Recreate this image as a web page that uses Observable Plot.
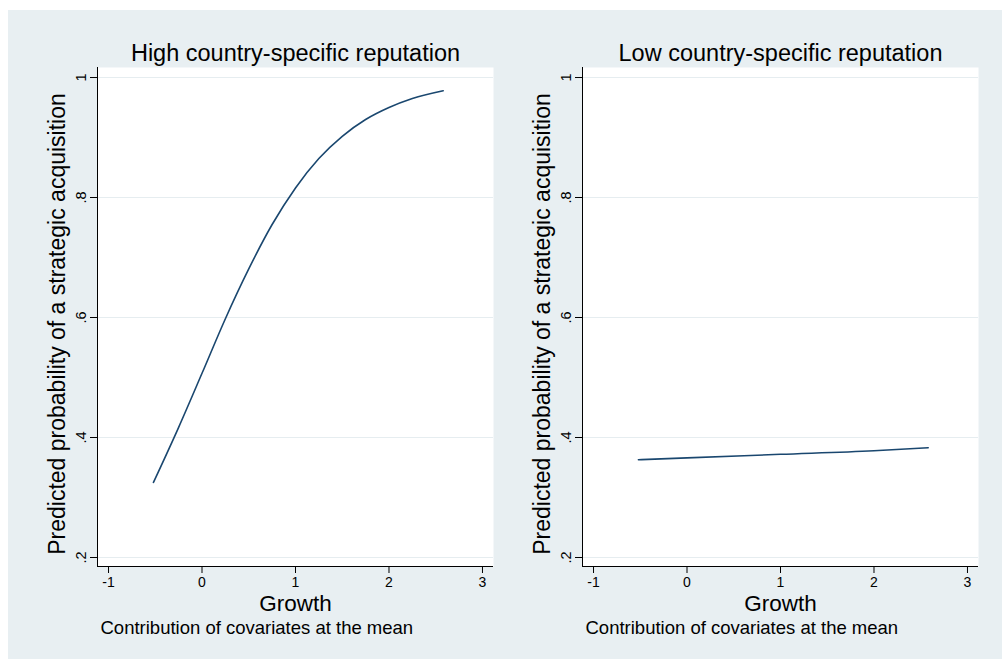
<!DOCTYPE html>
<html>
<head>
<meta charset="utf-8">
<script src="https://cdn.jsdelivr.net/npm/d3@7"></script>
<script src="https://cdn.jsdelivr.net/npm/@observablehq/plot@0.6"></script>
<style>
  html, body { margin: 0; padding: 0; background: #ffffff; }
  #wrap { position: relative; width: 1002px; height: 659px; overflow: hidden; }
  #bg { position: absolute; left: 8px; top: 10px; width: 994px; height: 649px; background: #e8eff2; }
  .panel { position: absolute; top: 0; }
</style>
</head>
<body>
<div id="wrap"><div id="bg"></div></div>
<script>
// ---- data ----
const panelTitles = ["High country-specific reputation", "Low country-specific reputation"];
const xTitle = "Growth";
const yTitle = "Predicted probability of a strategic acquisition";
const caption = "Contribution of covariates at the mean";
const xTicks = [-1, 0, 1, 2, 3];
const yTicks = [0.2, 0.4, 0.6, 0.8, 1];

const growthHigh = [-0.52, -0.25, 0, 0.25, 0.5, 0.75, 1, 1.25, 1.5, 1.75, 2, 2.25, 2.58];
const probHigh   = [0.325, 0.417, 0.507, 0.598, 0.681, 0.755, 0.816, 0.865, 0.902, 0.930, 0.950, 0.965, 0.978];

const growthLow = [-0.52, 0, 1, 2, 2.58];
const probLow   = [0.363, 0.366, 0.372, 0.378, 0.383];

// ---- styling ----
const lineColor = "#1a476f";
const gridColor = "#e6edf0";
const font = "'Liberation Sans', Arial, Helvetica, sans-serif";
const xDomain = [-1.118, 3.118];
const yDomain = [0.185, 1.0167];

function fmtY(d) { return d === 1 ? "1" : String(d).replace(/^0\./, "."); }

function panel(title, xs, ys) {
  const data = xs.map((x, i) => ({x, y: ys[i]}));
  return Plot.plot({
    width: 501, height: 659,
    marginLeft: 97, marginRight: 8, marginTop: 67, marginBottom: 93,
    x: {domain: xDomain},
    y: {domain: yDomain},
    style: {background: "transparent", fontFamily: font, color: "#000", overflow: "visible"},
    marks: [
      Plot.frame({fill: "white", stroke: null}),
      Plot.ruleY(yTicks, {stroke: gridColor, strokeWidth: 1.2}),
      Plot.line(data, {x: "x", y: "y", stroke: lineColor, strokeWidth: 1.6, curve: "monotone-x"}),
      Plot.ruleX([xDomain[0]], {stroke: "#000", strokeWidth: 1}),
      Plot.ruleY([yDomain[0]], {stroke: "#000", strokeWidth: 1}),
      Plot.axisX({ticks: xTicks, tickSize: 7, tickPadding: 4, fontSize: 14, label: null, tickFormat: d => String(d), stroke: "#000"}),
      Plot.axisY({ticks: yTicks, tickSize: 7, label: null, tickFormat: () => "", stroke: "#000"}),
      Plot.text(yTicks, {y: d => d, text: d => fmtY(d), frameAnchor: "left", dx: -16, rotate: -90,
        textAnchor: "middle", lineAnchor: "middle", fontSize: 14.5, fill: "#000"}),
      Plot.text([title], {text: d => d, frameAnchor: "top", dy: -7, lineAnchor: "bottom", fontSize: 23.5, fill: "#000"}),
      Plot.text([xTitle], {text: d => d, frameAnchor: "bottom", dy: 44, lineAnchor: "bottom", fontSize: 22.5, fill: "#000"}),
      Plot.text([caption], {text: d => d, frameAnchor: "bottom-left", dx: 3, dy: 67, lineAnchor: "bottom",
        textAnchor: "start", fontSize: 18.5, fill: "#000"}),
      Plot.text([yTitle], {text: d => d, frameAnchor: "left", dx: -40, dy: 7, rotate: -90, textAnchor: "middle",
        lineAnchor: "middle", fontSize: 23, fill: "#000"})
    ]
  });
}

const wrap = document.getElementById("wrap");
const p1 = panel(panelTitles[0], growthHigh, probHigh);
p1.classList.add("panel"); p1.style.left = "0px";
const p2 = panel(panelTitles[1], growthLow, probLow);
p2.classList.add("panel"); p2.style.left = "485px";
wrap.appendChild(p1);
wrap.appendChild(p2);
</script>
</body>
</html>
